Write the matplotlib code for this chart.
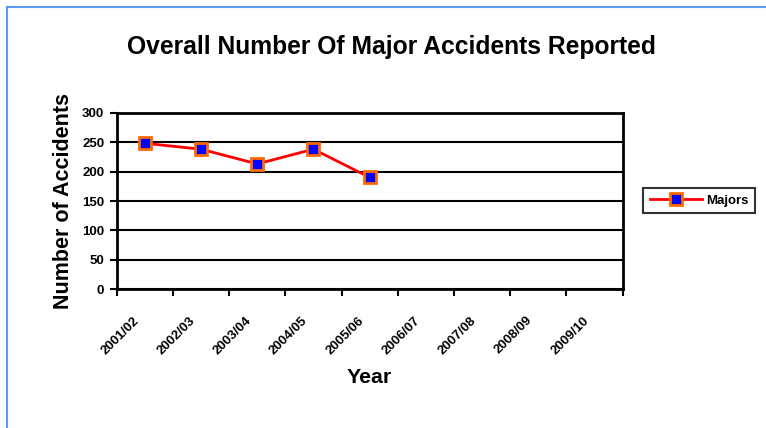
import numpy as np
import matplotlib
matplotlib.use("Agg")
import matplotlib.pyplot as plt
import matplotlib.transforms as mtransforms
from matplotlib.lines import Line2D

plt.rcParams['font.family'] = ['Liberation Sans', 'DejaVu Sans']

# Data
years = ["2001/02", "2002/03", "2003/04", "2004/05", "2005/06",
         "2006/07", "2007/08", "2008/09", "2009/10"]
majors = [248, 238, 213, 238, 190]
y_ticks = [0, 50, 100, 150, 200, 250, 300]

fig = plt.figure(figsize=(7.66, 4.28), dpi=100)

# light blue frame on top / left edge
fig.add_artist(Line2D([6.5 / 766, 6.5 / 766], [0, 1 - 6.5 / 428],
                      transform=fig.transFigure, color="#5B9BF5", lw=1.5))
fig.add_artist(Line2D([6.5 / 766, 1], [1 - 6.5 / 428, 1 - 6.5 / 428],
                      transform=fig.transFigure, color="#5B9BF5", lw=1.5))

ax = fig.add_axes([116.7 / 766, 1 - 289.3 / 428, 506 / 766, 176.6 / 428])

x = np.arange(len(majors)) + 0.5
ax.plot(x, majors, color="red", lw=2, marker="s", markersize=8,
        markerfacecolor="blue", markeredgecolor="#FF6A00", markeredgewidth=2,
        label="Majors", zorder=5, clip_on=False)

ax.set_xlim(0, len(years))
ax.set_ylim(0, 300)
ax.set_yticks(y_ticks)
ax.set_yticklabels([str(v) for v in y_ticks], fontsize=9.5, fontweight="bold")
ax.yaxis.grid(True, color="black", lw=1.5)
ax.set_axisbelow(True)

# ticks between categories, labels at centres
ax.set_xticks(np.arange(len(years) + 1))
ax.set_xticklabels([])
ax.set_xticks(np.arange(len(years)) + 0.5, minor=True)
ax.set_xticklabels(years, minor=True, rotation=45, ha="right", va="top",
                   rotation_mode="anchor", fontsize=9.5, fontweight="bold")
ax.tick_params(axis="x", which="minor", length=0, pad=18)
ax.tick_params(axis="x", which="major", length=5, width=1.5, direction="out")
ax.tick_params(axis="y", length=5, width=1.5, direction="out", pad=4)
offset = mtransforms.ScaledTranslation(-12 / 100, 0, fig.dpi_scale_trans)
for lab in ax.get_xticklabels(minor=True):
    lab.set_transform(lab.get_transform() + offset)

for s in ax.spines.values():
    s.set_linewidth(2)
    s.set_color("black")

ax.set_ylabel("Number of Accidents", fontsize=15.5, fontweight="bold", va="center")
ax.yaxis.set_label_coords(-0.106, 0.5)
ax.set_xlabel("Year", fontsize=15.3, fontweight="bold", va="center")
ax.xaxis.set_label_coords(0.5, -0.502)
fig.text(391.5 / 766, 1 - 47 / 428, "Overall Number Of Major Accidents Reported",
         ha="center", va="center", fontsize=17.7, fontweight="bold")

leg = ax.legend(loc="center left", bbox_to_anchor=(643 / 766, 1 - 200.5 / 428),
                bbox_transform=fig.transFigure, frameon=True, fancybox=False,
                prop={"weight": "bold", "size": 9.5}, handlelength=4.0,
                markerscale=1.0, borderpad=0.5, handletextpad=0.3,
                borderaxespad=0)
leg.get_frame().set_edgecolor("black")
leg.get_frame().set_linewidth(1.5)

fig.savefig("out.png", dpi=100)
